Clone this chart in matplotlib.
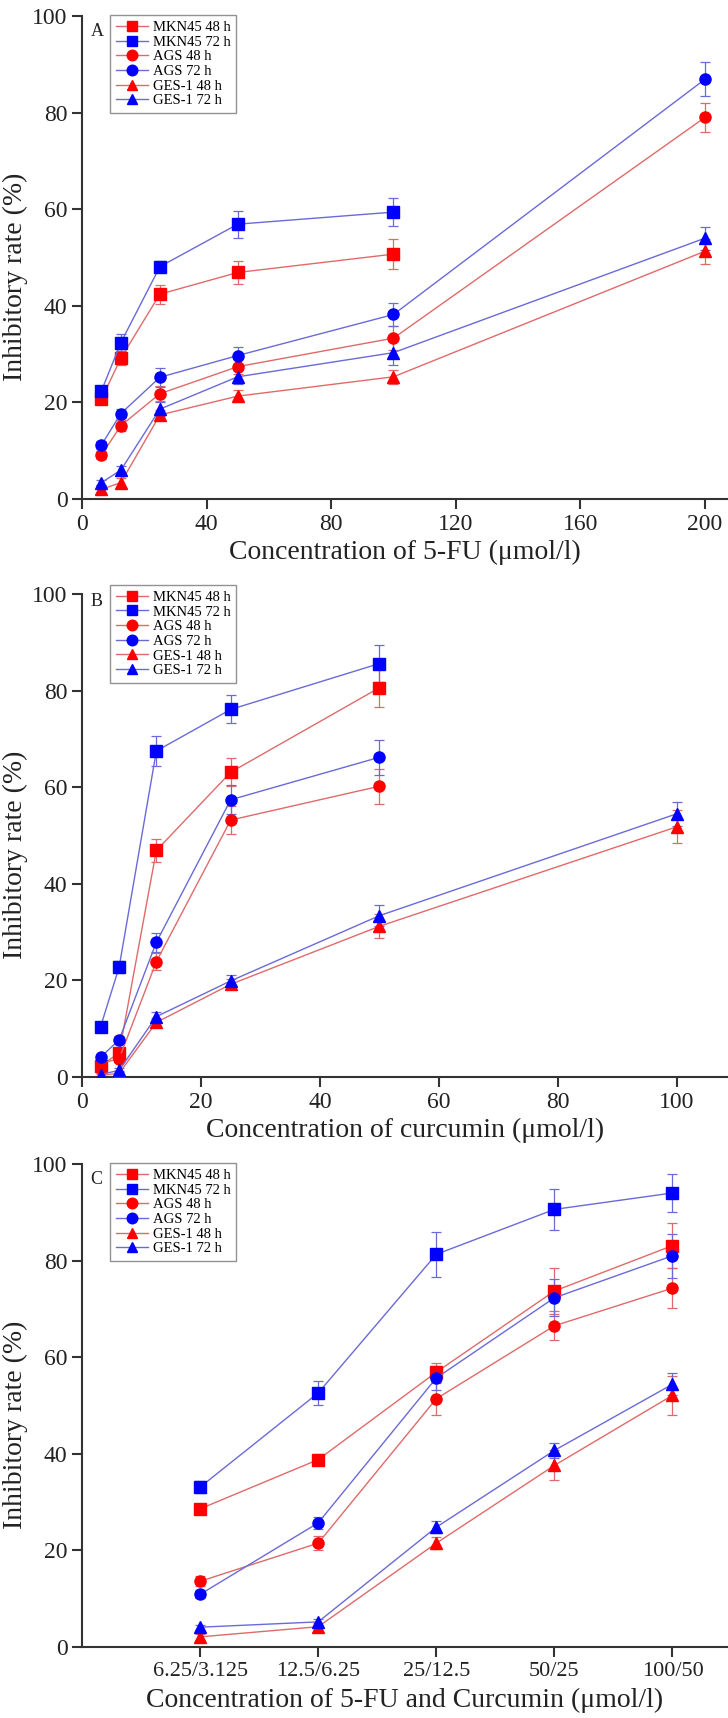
"""Inhibitory rate of 5-FU, curcumin and the combination on MKN45, AGS and GES-1 cells."""

import matplotlib
matplotlib.use("Agg")
import matplotlib.pyplot as plt

plt.rcParams["font.family"] = ["Liberation Serif", "DejaVu Serif"]

# ---- data ----
series_names = ["MKN45 48 h", "MKN45 72 h", "AGS 48 h", "AGS 72 h", "GES-1 48 h", "GES-1 72 h"]

# Panel A: 5-FU
conc_a = [6.25, 12.5, 25, 50, 100, 200]
mkn48_a = [20.7, 29.2, 42.4, 46.9, 50.7]
mkn72_a = [22.4, 32.4, 48.1, 56.9, 59.4]
ags48_a = [9.1, 15.2, 21.8, 27.4, 33.3, 79.0]
ags72_a = [11.2, 17.7, 25.2, 29.7, 38.2, 86.9]
ges48_a = [2.0, 3.4, 17.4, 21.3, 25.3, 51.3]
ges72_a = [3.4, 6.0, 18.6, 25.3, 30.3, 54.0]
mkn48_a_err = [0.8, 1.5, 2.0, 2.3, 3.1]
mkn72_a_err = [0.8, 1.7, 1.2, 2.8, 2.9]
ags48_a_err = [0.8, 1.2, 1.5, 1.5, 2.5, 3.0]
ags72_a_err = [0.8, 1.0, 2.0, 1.8, 2.4, 3.5]
ges48_a_err = [1.0, 1.0, 1.0, 1.2, 1.5, 2.6]
ges72_a_err = [0.6, 0.8, 1.5, 1.5, 2.6, 2.4]

# Panel B: curcumin
conc_b = [3.125, 6.25, 12.5, 25, 50, 100]
mkn48_b = [2.3, 5.0, 46.9, 63.1, 80.6]
mkn72_b = [10.4, 22.8, 67.5, 76.1, 85.6]
ags48_b = [2.8, 3.8, 23.9, 53.2, 60.2]
ags72_b = [4.1, 7.7, 27.9, 57.4, 66.2]
ges48_b = [0.3, 0.8, 11.3, 19.2, 31.2, 51.8]
ges72_b = [0.5, 1.4, 12.5, 19.9, 33.4, 54.5]
mkn48_b_err = [0.6, 0.8, 2.3, 2.9, 3.9]
mkn72_b_err = [0.6, 1.2, 3.2, 2.9, 3.9]
ags48_b_err = [0.5, 0.7, 1.8, 2.9, 3.6]
ags72_b_err = [0.5, 0.8, 2.0, 3.0, 3.6]
ges48_b_err = [0.3, 0.4, 1.0, 1.0, 2.5, 3.4]
ges72_b_err = [0.3, 0.4, 1.0, 1.3, 2.2, 2.5]

# Panel C: 5-FU / curcumin combination
combo_labels = ["6.25/3.125", "12.5/6.25", "25/12.5", "50/25", "100/50"]
mkn48_c = [28.6, 38.8, 56.9, 73.7, 83.1]
mkn72_c = [33.1, 52.6, 81.3, 90.6, 94.0]
ags48_c = [13.6, 21.5, 51.4, 66.5, 74.3]
ags72_c = [10.9, 25.7, 55.7, 72.3, 81.0]
ges48_c = [2.1, 4.2, 21.5, 37.6, 52.1]
ges72_c = [4.1, 5.2, 24.8, 40.7, 54.4]
mkn48_c_err = [0.8, 1.2, 2.0, 4.7, 4.7]
mkn72_c_err = [1.2, 2.5, 4.6, 4.2, 3.9]
ags48_c_err = [1.0, 1.5, 3.3, 3.0, 4.2]
ags72_c_err = [0.8, 1.3, 2.5, 3.8, 4.5]
ges48_c_err = [0.6, 0.8, 1.2, 3.1, 4.0]
ges72_c_err = [0.5, 0.6, 1.2, 1.5, 2.3]

# ---- styling ----
RED, BLUE = "#ff0000", "#0000ff"
RED_LINE, BLUE_LINE = "#e06a6a", "#6a6ad8"
styles = [
    ("s", RED, RED_LINE),
    ("s", BLUE, BLUE_LINE),
    ("o", RED, RED_LINE),
    ("o", BLUE, BLUE_LINE),
    ("^", RED, RED_LINE),
    ("^", BLUE, BLUE_LINE),
]
W, H = 728, 1718


def draw_panel(ax, x_all, ys, errs, letter, legend_top):
    for name, y, e, (m, col, lcol) in zip(series_names, ys, errs, styles):
        x = x_all[: len(y)]
        ax.errorbar(x, y, yerr=e, fmt="none", ecolor=lcol, elinewidth=0.9,
                    capsize=3.5, capthick=0.9, zorder=2)
        ax.plot(x, y, "-", color=lcol, lw=1.0, marker=m, ms=8,
                markerfacecolor=col, markeredgecolor=col, label=name, zorder=3)

    ax.set_ylim(0, 100)
    ax.set_yticks(range(0, 101, 20))
    for side in ("top", "right"):
        ax.spines[side].set_visible(False)
    for side in ("left", "bottom"):
        ax.spines[side].set_linewidth(1.5)
        ax.spines[side].set_color("#333333")
    ax.tick_params(direction="out", length=7, width=1.5, color="#333333",
                   labelsize=17, labelcolor="#222222")
    ax.set_ylabel("Inhibitory rate (%)", fontsize=20, color="#222222")
    ax.yaxis.set_label_coords(-0.084, 0.46)

    ax.text(0.013, legend_top - 0.035, letter, transform=ax.transAxes,
            fontsize=13, ha="left", va="center", color="#222222")
    leg = ax.legend(loc="upper left", bbox_to_anchor=(0.044, legend_top),
                    borderaxespad=0, fontsize=10.5, frameon=True, fancybox=False,
                    edgecolor="#777777", handlelength=2.2, handletextpad=0.3,
                    labelspacing=0.1, borderpad=0.4, markerscale=0.95)
    leg.get_frame().set_linewidth(1.0)


fig = plt.figure(figsize=(W / 100, H / 100), dpi=100)
left = 82 / W
width = 1 - left
ax_h = 483 / H

# Panel A
ax_a = fig.add_axes([left, 1 - 499 / H, width, ax_h])
draw_panel(ax_a, conc_a,
           [mkn48_a, mkn72_a, ags48_a, ags72_a, ges48_a, ges72_a],
           [mkn48_a_err, mkn72_a_err, ags48_a_err, ags72_a_err, ges48_a_err, ges72_a_err],
           "A", 1.002)
ax_a.set_xlim(0, 207.4)
ax_a.set_xticks(range(0, 201, 40))
ax_a.set_xlabel("Concentration of 5-FU (\u03bcmol/l)", fontsize=20, color="#222222")
ax_a.xaxis.set_label_coords(0.5, -0.085)

# Panel B
ax_b = fig.add_axes([left, 1 - 1077 / H, width, ax_h])
draw_panel(ax_b, conc_b,
           [mkn48_b, mkn72_b, ags48_b, ags72_b, ges48_b, ges72_b],
           [mkn48_b_err, mkn72_b_err, ags48_b_err, ags72_b_err, ges48_b_err, ges72_b_err],
           "B", 1.019)
ax_b.set_xlim(0, 108.6)
ax_b.set_xticks(range(0, 101, 20))
ax_b.set_xlabel("Concentration of curcumin (\u03bcmol/l)", fontsize=20, color="#222222")
ax_b.xaxis.set_label_coords(0.5, -0.085)

# Panel C
ax_c = fig.add_axes([left, 1 - 1647 / H, width, ax_h])
combo_pos = list(range(1, len(combo_labels) + 1))
draw_panel(ax_c, combo_pos,
           [mkn48_c, mkn72_c, ags48_c, ags72_c, ges48_c, ges72_c],
           [mkn48_c_err, mkn72_c_err, ags48_c_err, ags72_c_err, ges48_c_err, ges72_c_err],
           "C", 1.002)
ax_c.set_xlim(0, 5.47)
ax_c.set_xticks(combo_pos)
ax_c.set_xticklabels(combo_labels, fontsize=16)
ax_c.set_xlabel("Concentration of 5-FU and Curcumin (\u03bcmol/l)", fontsize=20, color="#222222")
ax_c.xaxis.set_label_coords(0.5, -0.085)

fig.savefig("out.png", dpi=100)
